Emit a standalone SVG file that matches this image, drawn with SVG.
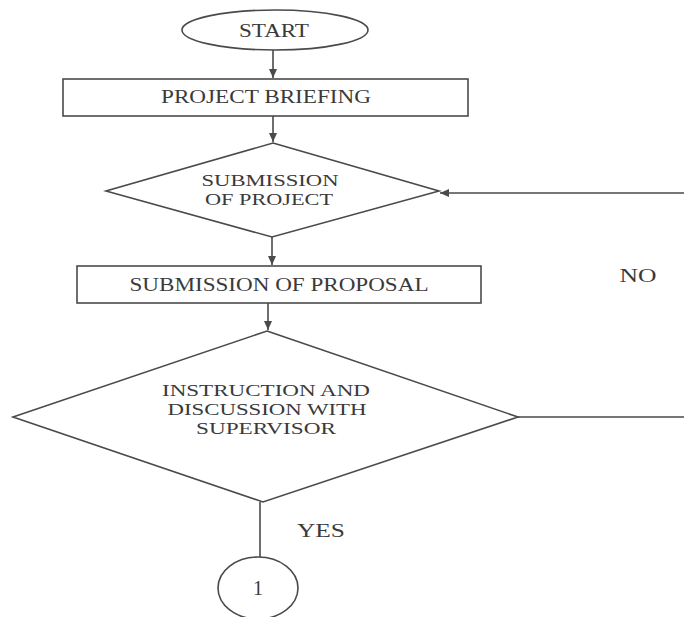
<svg xmlns="http://www.w3.org/2000/svg" width="684" height="617" viewBox="0 0 684 617">
  <style>
    .shape { fill: #ffffff; stroke: #4a4a4a; stroke-width: 1.6; }
    .line { fill: none; stroke: #4a4a4a; stroke-width: 1.6; }
    .lbl { font-family: "Liberation Serif", "Times New Roman", serif; font-size: 18px; fill: #3a3a3a; text-anchor: middle; }
    .ml { font-size: 16px; }
  </style>
  <defs>
    <marker id="arrow" markerWidth="10" markerHeight="10" refX="9" refY="5" orient="auto" markerUnits="userSpaceOnUse">
      <path d="M0,1 L9,5 L0,9 Z" fill="#4a4a4a"/>
    </marker>
  </defs>
  <rect width="684" height="617" fill="#ffffff"/>

  <g id="connectors">
    <line class="line" x1="273" y1="50" x2="273" y2="78" marker-end="url(#arrow)"/>
    <line class="line" x1="273" y1="116" x2="273" y2="142" marker-end="url(#arrow)"/>
    <line class="line" x1="272" y1="237" x2="272" y2="265" marker-end="url(#arrow)"/>
    <line class="line" x1="268" y1="303" x2="268" y2="330" marker-end="url(#arrow)"/>
    <line class="line" x1="684" y1="193" x2="440" y2="193" marker-end="url(#arrow)"/>
    <line class="line" x1="518" y1="417" x2="684" y2="417"/>
    <line class="line" x1="260" y1="502" x2="260" y2="557"/>
    <text class="lbl" x="638" y="282" textLength="37" lengthAdjust="spacingAndGlyphs">NO</text>
    <text class="lbl" x="321" y="537" textLength="48" lengthAdjust="spacingAndGlyphs">YES</text>
  </g>

  <g id="start">
    <ellipse class="shape" cx="275" cy="30" rx="93" ry="20"/>
    <text class="lbl" x="274" y="37" textLength="70" lengthAdjust="spacingAndGlyphs">START</text>
  </g>

  <g id="project-briefing">
    <rect class="shape" x="63" y="79" width="405" height="37"/>
    <text class="lbl" x="266" y="103" textLength="210" lengthAdjust="spacingAndGlyphs">PROJECT BRIEFING</text>
  </g>

  <g id="submission-of-project">
    <polygon class="shape" points="273,143 439,191 272,237 106,191"/>
    <text class="lbl ml" x="270" y="186" textLength="137" lengthAdjust="spacingAndGlyphs">SUBMISSION</text>
    <text class="lbl ml" x="269" y="205" textLength="128" lengthAdjust="spacingAndGlyphs">OF PROJECT</text>
  </g>

  <g id="submission-of-proposal">
    <rect class="shape" x="77" y="266" width="404" height="37"/>
    <text class="lbl" x="279" y="291" textLength="299" lengthAdjust="spacingAndGlyphs">SUBMISSION OF PROPOSAL</text>
  </g>

  <g id="instruction-discussion">
    <polygon class="shape" points="267,331 518,417 263,502 13,417"/>
    <text class="lbl ml" x="266" y="396" textLength="208" lengthAdjust="spacingAndGlyphs">INSTRUCTION AND</text>
    <text class="lbl ml" x="267" y="415" textLength="199" lengthAdjust="spacingAndGlyphs">DISCUSSION WITH</text>
    <text class="lbl ml" x="266" y="434" textLength="140" lengthAdjust="spacingAndGlyphs">SUPERVISOR</text>
  </g>

  <g id="connector-1">
    <ellipse class="shape" cx="258" cy="588" rx="40" ry="31"/>
    <text class="lbl" x="258" y="595" style="font-size:20px">1</text>
  </g>
</svg>
